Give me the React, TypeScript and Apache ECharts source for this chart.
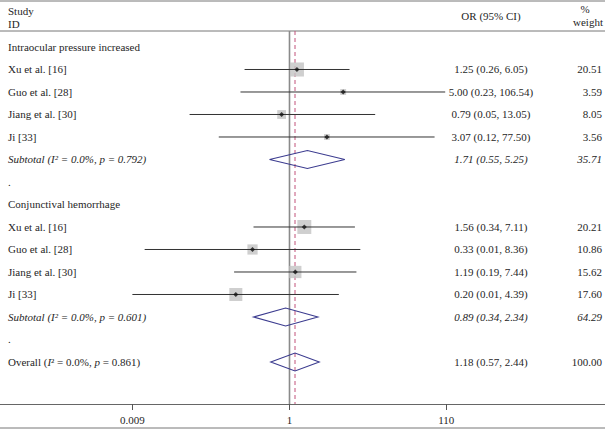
import React, { useEffect, useRef } from "react";
import * as echarts from "echarts";

const FONT = "'Liberation Serif', 'DejaVu Serif', serif";

const rowLabels = [
  "Intraocular pressure increased",
  "Xu et al. [16]",
  "Guo et al. [28]",
  "Jiang et al. [30]",
  "Ji [33]",
  "{it|Subtotal (I² = 0.0%, p = 0.792)}",
  ".",
  "Conjunctival hemorrhage",
  "Xu et al. [16]",
  "Guo et al. [28]",
  "Jiang et al. [30]",
  "Ji [33]",
  "{it|Subtotal (I² = 0.0%, p = 0.601)}",
  ".",
  "Overall ({it|I}² = 0.0%, {it|p} = 0.861)",
];
const orTexts = [
  "", "1.25 (0.26, 6.05)", "5.00 (0.23, 106.54)", "0.79 (0.05, 13.05)", "3.07 (0.12, 77.50)",
  "{it|1.71 (0.55, 5.25)}", "", "", "1.56 (0.34, 7.11)", "0.33 (0.01, 8.36)",
  "1.19 (0.19, 7.44)", "0.20 (0.01, 4.39)", "{it|0.89 (0.34, 2.34)}", "", "1.18 (0.57, 2.44)",
];
const weightTexts = [
  "", "20.51", "3.59", "8.05", "3.56", "{it|35.71}", "", "", "20.21", "10.86",
  "15.62", "17.60", "{it|64.29}", "", "100.00",
];

// individual studies
const studyRows = [1, 2, 3, 4, 8, 9, 10, 11];
const studyOR = [1.25, 5.0, 0.79, 3.07, 1.56, 0.33, 1.19, 0.2];
const studyLo = [0.26, 0.23, 0.05, 0.12, 0.34, 0.013, 0.19, 0.009];
const studyHi = [6.05, 106.54, 13.05, 77.5, 7.11, 8.36, 7.44, 4.39];
const studyWeight = [20.51, 3.59, 8.05, 3.56, 20.21, 10.86, 15.62, 17.6];

// pooled estimates
const poolRows = [5, 12, 14];
const poolOR = [1.71, 0.89, 1.18];
const poolLo = [0.55, 0.34, 0.57];
const poolHi = [5.25, 2.34, 2.44];

const tickValues = [0.009, 1, 110];
const nullValue = 1;
const overallOR = 1.18;

export default function App() {
  const ref = useRef<HTMLDivElement>(null);
  useEffect(() => {
    document.body.style.margin = "0";
    const chart = echarts.init(ref.current!, null, { renderer: "svg" });
    const textColor = "#262626";
    const rich = { it: { fontStyle: "italic", fontFamily: FONT, fontSize: 11, color: textColor } };

    const option: any = {
      animation: false,
      backgroundColor: "#fff",
      textStyle: { fontFamily: FONT },
      grid: { left: 0, right: 0, top: 31, bottom: 26 },
      xAxis: {
        type: "log",
        min: 1.7e-4,
        max: 12830,
        axisLine: { show: true, onZero: false, lineStyle: { color: "#666", width: 1 } },
        axisTick: { show: true, inside: false, length: 6, customValues: tickValues, lineStyle: { color: "#555" } },
        axisLabel: {
          show: true,
          customValues: tickValues,
          margin: 10,
          fontFamily: FONT,
          fontSize: 11,
          color: textColor,
          formatter: (v: number) => String(v),
        },
        splitLine: { show: false },
        minorTick: { show: false },
      },
      yAxis: {
        type: "value",
        inverse: true,
        min: -0.711,
        max: 15.867,
        show: false,
      },
      graphic: [
        { type: "line", shape: { x1: 0, y1: 1, x2: 605, y2: 1 }, style: { stroke: "#777", lineWidth: 1 } },
        { type: "line", shape: { x1: 0, y1: 31, x2: 605, y2: 31 }, style: { stroke: "#777", lineWidth: 1 } },
        { type: "line", shape: { x1: 0, y1: 428, x2: 605, y2: 428 }, style: { stroke: "#777", lineWidth: 1 } },
        { type: "text", left: 8, top: 4, style: { text: "Study\nID", font: `11px ${FONT}`, fill: textColor, lineHeight: 13 } },
        { type: "text", x: 491, y: 16, style: { text: "OR (95% CI)", font: `11px ${FONT}`, fill: textColor, align: "center", verticalAlign: "middle" } },
        { type: "text", x: 585, y: 9, style: { text: "%", font: `11px ${FONT}`, fill: textColor, align: "center", verticalAlign: "middle" } },
        { type: "text", x: 603, y: 22, style: { text: "weight", font: `11px ${FONT}`, fill: textColor, align: "right", verticalAlign: "middle" } },
      ],
      series: [
        {
          type: "custom",
          name: "texts",
          silent: true,
          data: rowLabels.map((_, i) => [1, i]),
          renderItem: (params: any, api: any) => {
            const i = params.dataIndex;
            const y = api.coord([1, i])[1];
            const base = { font: `11px ${FONT}`, fill: textColor, verticalAlign: "middle", rich };
            return {
              type: "group",
              children: [
                { type: "text", x: 8, y, style: { ...base, text: rowLabels[i], align: "left" } },
                { type: "text", x: 491, y, style: { ...base, text: orTexts[i], align: "center" } },
                { type: "text", x: 602, y, style: { ...base, text: weightTexts[i], align: "right" } },
              ],
            };
          },
        },
        {
          type: "custom",
          name: "refLines",
          silent: true,
          data: [[nullValue, 0], [overallOR, 1]],
          encode: { x: 0 },
          renderItem: (params: any, api: any) => {
            const cs = params.coordSys;
            const x = api.coord([api.value(0), 0])[0];
            const isNull = api.value(1) === 0;
            return {
              type: "line",
              shape: { x1: x, y1: cs.y, x2: x, y2: cs.y + cs.height },
              style: isNull
                ? { stroke: "#8a8a8a", lineWidth: 1.6 }
                : { stroke: "#c2527a", lineWidth: 1, lineDash: [4, 3] },
            };
          },
          z: 1,
        },
        {
          type: "scatter",
          name: "boxes",
          silent: true,
          symbol: "rect",
          data: studyOR.map((v, i) => [v, studyRows[i], studyWeight[i]]),
          symbolSize: (d: number[]) => 3.1 * Math.sqrt(d[2]),
          itemStyle: { color: "#c3c3c3" },
          z: 2,
        },
        {
          type: "custom",
          name: "ci",
          silent: true,
          data: studyOR.map((_, i) => [studyLo[i], studyHi[i], studyRows[i]]),
          encode: { x: [0, 1], y: 2 },
          renderItem: (params: any, api: any) => {
            const p1 = api.coord([api.value(0), api.value(2)]);
            const p2 = api.coord([api.value(1), api.value(2)]);
            return {
              type: "line",
              shape: { x1: p1[0], y1: p1[1], x2: p2[0], y2: p2[1] },
              style: { stroke: "#333", lineWidth: 1 },
            };
          },
          z: 3,
        },
        {
          type: "scatter",
          name: "points",
          silent: true,
          symbol: "diamond",
          symbolSize: 5,
          data: studyOR.map((v, i) => [v, studyRows[i]]),
          itemStyle: { color: "#111" },
          z: 4,
        },
        {
          type: "custom",
          name: "diamonds",
          silent: true,
          data: poolOR.map((v, i) => [poolLo[i], v, poolHi[i], poolRows[i]]),
          encode: { x: [0, 1, 2], y: 3 },
          renderItem: (params: any, api: any) => {
            const row = api.value(3);
            const l = api.coord([api.value(0), row]);
            const c = api.coord([api.value(1), row]);
            const r = api.coord([api.value(2), row]);
            const h = 9;
            return {
              type: "polygon",
              shape: { points: [[l[0], l[1]], [c[0], c[1] - h], [r[0], r[1]], [c[0], c[1] + h]] },
              style: { fill: "none", stroke: "#3b3b8f", lineWidth: 1.1 },
            };
          },
          z: 5,
        },
      ],
    };
    chart.setOption(option);
    return () => chart.dispose();
  }, []);
  return <div ref={ref} style={{ width: 605, height: 430 }} />;
}
